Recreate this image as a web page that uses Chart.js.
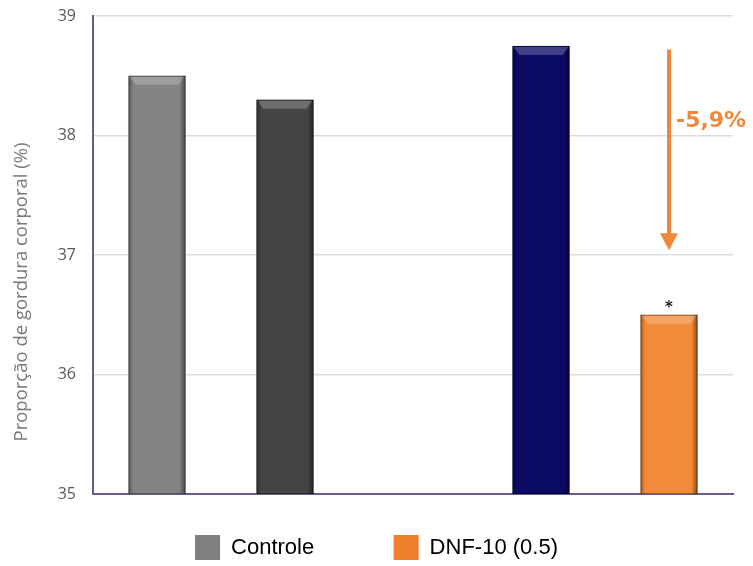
<!DOCTYPE html>
<html>
<head>
<meta charset="utf-8">
<script src="https://cdn.jsdelivr.net/npm/chart.js@4.4.1/dist/chart.umd.min.js"></script>
<style>
  html, body { margin: 0; padding: 0; background: #fff; }
  #wrap { width: 753px; height: 566px; }
</style>
</head>
<body>
<div id="wrap"><canvas id="gordura"></canvas></div>
<script>
// values
const groups = ['Controle 1', 'Controle 2', '', 'DNF-10 1', 'DNF-10 2'];
const bodyFat = [38.5, 38.3, null, 38.75, 36.5];
const barColors = ['#838383', '#444444', '#ffffff', '#0b0b66', '#f28a38'];
const yTicks = [35, 36, 37, 38, 39];
const legendNames = ['Controle', 'DNF-10 (0.5)'];
const legendColors = ['#808080', '#ef7f2d'];
const arrowFrom = 38.72;
const arrowTo = 37.04;
const changeText = '-5,9%';
const orange = '#f0883a';

// bevel look of the bars + arrow, percent and asterisk
const barDecor = {
    id: 'barDecor',
    afterDatasetsDraw(chart) {
        const ctx = chart.ctx;
        const meta = chart.getDatasetMeta(0);
        const area = chart.chartArea;
        meta.data.forEach((bar, i) => {
            if (bodyFat[i] == null) return;
            const w = bar.width;
            const l = bar.x - w / 2, r = bar.x + w / 2;
            const t = bar.y, b = Math.min(bar.base, area.bottom);
            ctx.save();
            let g = ctx.createLinearGradient(r - 6, 0, r, 0);
            g.addColorStop(0, 'rgba(0,0,0,0)');
            g.addColorStop(1, 'rgba(0,0,0,0.45)');
            ctx.fillStyle = g;
            ctx.fillRect(r - 6, t, 6, b - t);
            g = ctx.createLinearGradient(l, 0, l + 5, 0);
            g.addColorStop(0, 'rgba(0,0,0,0.3)');
            g.addColorStop(1, 'rgba(0,0,0,0)');
            ctx.fillStyle = g;
            ctx.fillRect(l, t, 5, b - t);
            ctx.beginPath();
            ctx.moveTo(l + 1, t + 1);
            ctx.lineTo(r - 1, t + 1);
            ctx.lineTo(r - 7, t + 9);
            ctx.lineTo(l + 7, t + 9);
            ctx.closePath();
            ctx.fillStyle = 'rgba(255,255,255,0.22)';
            ctx.fill();
            ctx.strokeStyle = 'rgba(0,0,0,0.35)';
            ctx.lineWidth = 1;
            ctx.strokeRect(l + 0.5, t + 0.5, w - 1, b - t - 1);
            ctx.restore();
        });

        const y = chart.scales.y;
        const last = meta.data[4];
        const ax = last.x;
        const y1 = y.getPixelForValue(arrowFrom);
        const y2 = y.getPixelForValue(arrowTo);
        ctx.save();
        ctx.strokeStyle = orange;
        ctx.fillStyle = orange;
        ctx.lineWidth = 4;
        ctx.beginPath();
        ctx.moveTo(ax, y1);
        ctx.lineTo(ax, y2 - 15);
        ctx.stroke();
        ctx.beginPath();
        ctx.moveTo(ax - 9, y2 - 17);
        ctx.lineTo(ax + 9, y2 - 17);
        ctx.lineTo(ax, y2);
        ctx.closePath();
        ctx.fill();

        ctx.font = 'bold 22px "DejaVu Sans"';
        ctx.textAlign = 'left';
        ctx.textBaseline = 'middle';
        ctx.fillText(changeText, ax + 7, y.getPixelForValue(38.12));

        ctx.fillStyle = '#222';
        ctx.font = 'bold 15px "DejaVu Sans"';
        ctx.textAlign = 'center';
        ctx.fillText('*', ax, last.y - 7);
        ctx.restore();
    }
};

const chartOne = document.getElementById('gordura');
new Chart(chartOne, {
    type: 'bar',
    data: {
        labels: groups,
        datasets: [{
            label: '',
            data: bodyFat,
            backgroundColor: barColors,
            borderWidth: 0,
            barPercentage: 1,
            categoryPercentage: 0.445
        }]
    },
    options: {
        responsive: true,
        maintainAspectRatio: false,
        animation: false,
        layout: { padding: { top: 16, right: 20, left: 20, bottom: -4 } },
        plugins: {
            tooltip: { enabled: false },
            legend: {
                position: 'bottom',
                onClick: null,
                labels: {
                    boxWidth: 25,
                    boxHeight: 25,
                    padding: 3,
                    color: '#3a3a3a',
                    font: { family: 'Liberation Sans', size: 22 },
                    generateLabels: () => [
                        { text: legendNames[0], fillStyle: legendColors[0], strokeStyle: legendColors[0], lineWidth: 0 },
                        { text: '\u2003\u2002\u2009', fillStyle: 'rgba(0,0,0,0)', strokeStyle: 'rgba(0,0,0,0)', lineWidth: 0 },
                        { text: legendNames[1], fillStyle: legendColors[1], strokeStyle: legendColors[1], lineWidth: 0 }
                    ]
                }
            }
        },
        scales: {
            x: {
                ticks: { display: false },
                grid: { display: false },
                border: { display: true, color: '#5e5e92', width: 2 },
                afterFit: (scale) => { scale.height = 38; }
            },
            y: {
                min: yTicks[0],
                max: yTicks[yTicks.length - 1],
                afterBuildTicks: (scale) => { scale.ticks = yTicks.map(v => ({ value: v })); },
                afterFit: (scale) => {
                    scale.width = 73;
                    scale.paddingTop = 0;
                    scale.paddingBottom = 0;
                },
                ticks: {
                    padding: 17,
                    color: '#595959',
                    font: { family: 'Open Sans', size: 16 }
                },
                grid: { color: '#dcdcdc', drawTicks: false, lineWidth: 1.5 },
                border: { display: true, color: '#5e5e92', width: 2 },
                title: {
                    display: true,
                    text: 'Proporção de gordura corporal (%)\u2003\u2003\u2003\u2003',
                    color: '#7a7a7a',
                    font: { family: 'Open Sans', size: 18.5 },
                    padding: { top: -9, bottom: 0 }
                }
            }
        }
    },
    plugins: [barDecor]
});
</script>
</body>
</html>
